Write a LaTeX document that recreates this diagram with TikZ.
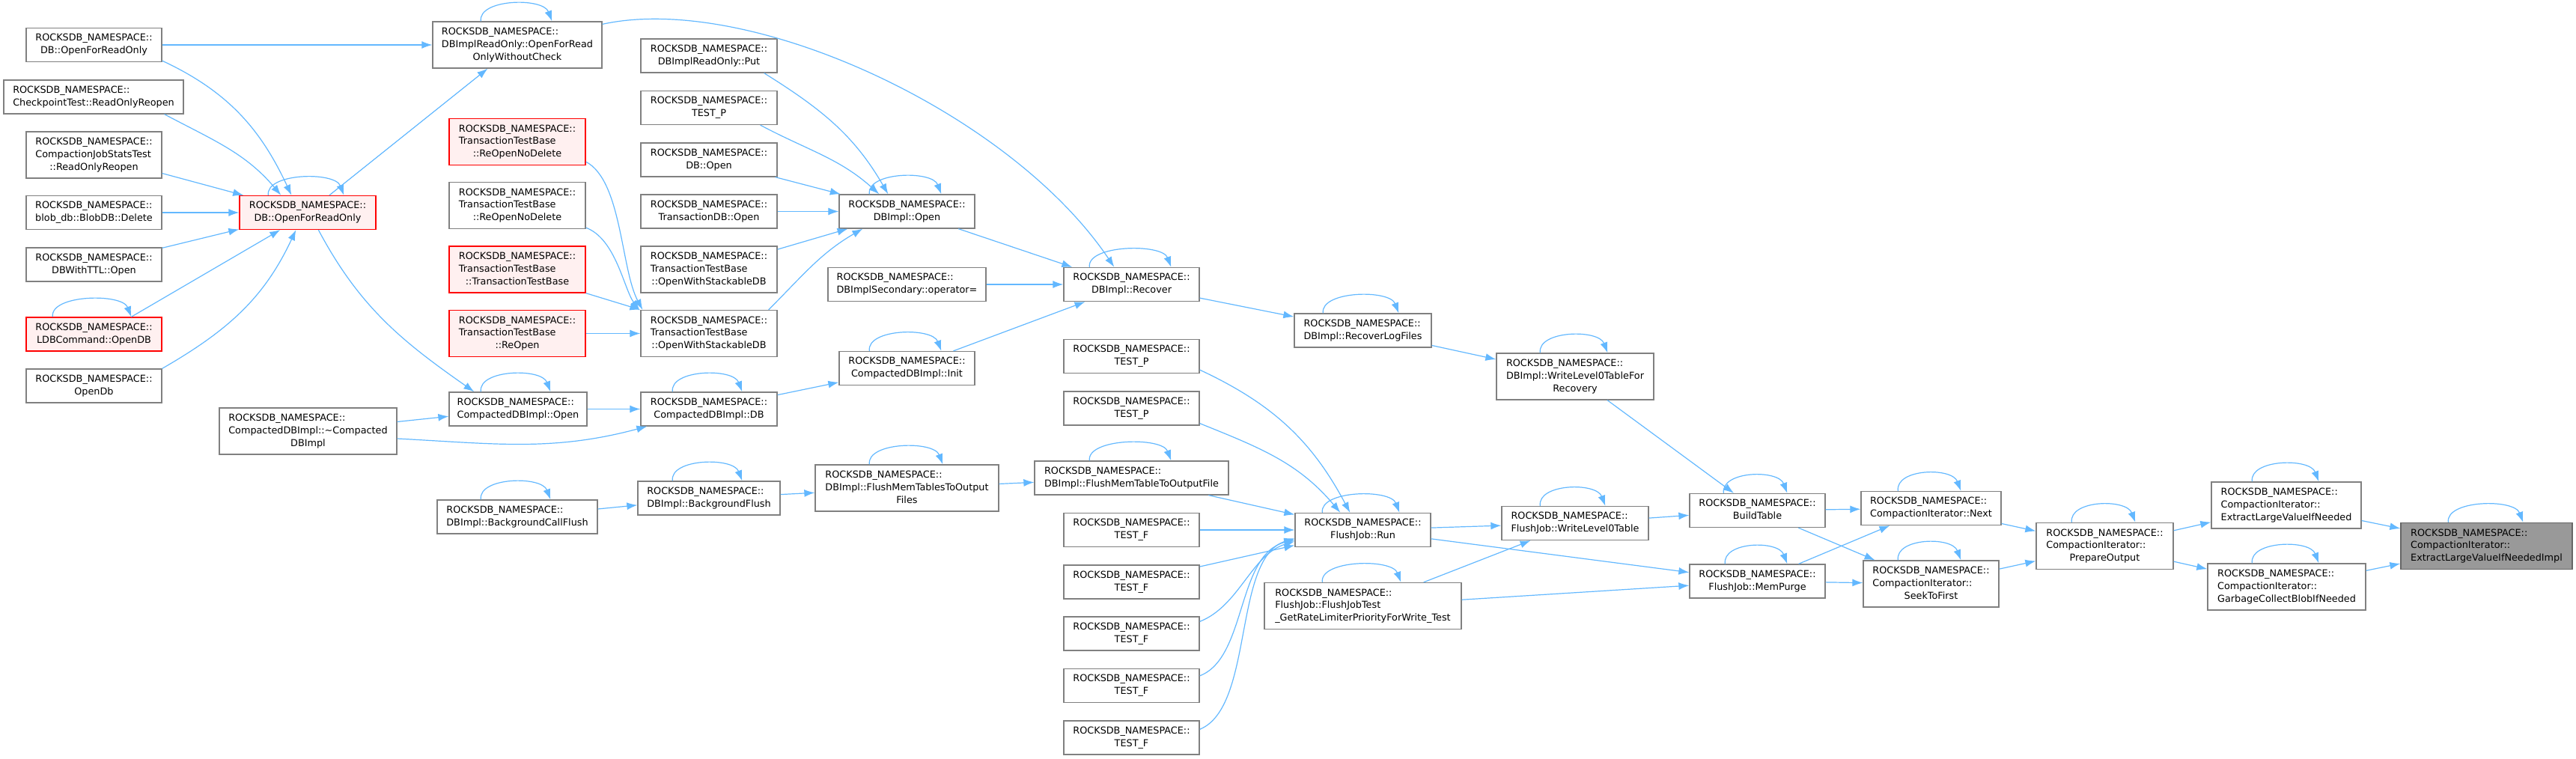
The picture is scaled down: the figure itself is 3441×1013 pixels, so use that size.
\documentclass[tikz,border=0pt]{standalone}
\usepackage{fontspec}
\newfontfamily\dejavu{DejaVu Sans}
\usetikzlibrary{arrows.meta,calc}
\definecolor{edgeblue}{HTML}{63B8FF}
\definecolor{boxgray}{HTML}{808080}
\definecolor{redfill}{HTML}{FFF0F0}
\definecolor{curfill}{HTML}{999999}
\definecolor{curborder}{HTML}{666666}
% labels: every line left aligned, the last one centred
\newcommand{\lbltwo}[2]{\begin{tabular}{@{}l@{}}#1\\\multicolumn{1}{@{}c@{}}{#2}\end{tabular}}
\newcommand{\lblthree}[3]{\begin{tabular}{@{}l@{}}#1\\#2\\\multicolumn{1}{@{}c@{}}{#3}\end{tabular}}
\newcommand{\rns}{ROCKSDB\_NAMESPACE::}
\begin{document}
\begin{tikzpicture}[x=0.5pt,y=0.5pt,
    fn/.style={draw=boxgray, fill=white, line width=0.65pt, inner sep=0pt,
      minimum height=22.5pt, font=\dejavu\fontsize{6.4}{8.4}\selectfont},
    fnred/.style={fn, draw=red, fill=redfill},
    fncur/.style={fn, draw=curborder, fill=curfill},
    tall/.style={minimum height=31pt},
    wd/.style={minimum width=#1*0.5pt},
    callarrow/.style={draw=edgeblue, line width=0.6pt, -{Latex[length=7pt,width=5pt]}}]
  \useasboundingbox (0,0) rectangle (3441,1013);

  % callers on the far left
  \node[fn, wd=181] (dbofro) at (125.5,953) {\lbltwo{\rns}{DB::OpenForReadOnly}};
  \node[fn, wd=240] (ckpt) at (125,883.5) {\lbltwo{\rns}{CheckpointTest::ReadOnlyReopen}};
  \node[fn, wd=181, tall] (cjst) at (125.5,806) {\lblthree{\rns}{CompactionJobStatsTest}{::ReadOnlyReopen}};
  \node[fn, wd=181] (blob) at (125.5,729) {\lbltwo{\rns}{blob\_db::BlobDB::Delete}};
  \node[fn, wd=181] (ttl) at (125.5,659.5) {\lbltwo{\rns}{DBWithTTL::Open}};
  \node[fnred, wd=181] (ldb) at (125.5,566.5) {\lbltwo{\rns}{LDBCommand::OpenDB}};
  \node[fn, wd=181] (opendb) at (125.5,497.5) {\lbltwo{\rns}{OpenDb}};
  \node[fn, wd=237, tall] (cdtor) at (411.5,437) {\lblthree{\rns}{CompactedDBImpl::\textasciitilde Compacted}{DBImpl}};
  \node[fnred, wd=182] (rofro) at (411,729) {\lbltwo{\rns}{DB::OpenForReadOnly}};

  \node[fn, wd=226, tall] (woc) at (691,953) {\lblthree{\rns}{DBImplReadOnly::OpenForRead}{OnlyWithoutCheck}};
  \node[fnred, wd=182, tall] (trndr) at (691,823.5) {\lblthree{\rns}{TransactionTestBase}{::ReOpenNoDelete}};
  \node[fn, wd=182, tall] (trnd) at (691,738.5) {\lblthree{\rns}{TransactionTestBase}{::ReOpenNoDelete}};
  \node[fnred, wd=182, tall] (trtb) at (691,653) {\lblthree{\rns}{TransactionTestBase}{::TransactionTestBase}};
  \node[fnred, wd=182, tall] (trro) at (691,567.5) {\lblthree{\rns}{TransactionTestBase}{::ReOpen}};
  \node[fn, wd=184] (cdo) at (692,466.5) {\lbltwo{\rns}{CompactedDBImpl::Open}};
  \node[fn, wd=214] (bgcf) at (691,322.5) {\lbltwo{\rns}{DBImpl::BackgroundCallFlush}};

  \node[fn, wd=182] (put) at (947,938.5) {\lbltwo{\rns}{DBImplReadOnly::Put}};
  \node[fn, wd=182] (testpa) at (947,869) {\lbltwo{\rns}{TEST\_P}};
  \node[fn, wd=182] (dbopen) at (947,799.5) {\lbltwo{\rns}{DB::Open}};
  \node[fn, wd=182] (txdb) at (947,730.5) {\lbltwo{\rns}{TransactionDB::Open}};
  \node[fn, wd=182, tall] (owsa) at (947,653) {\lblthree{\rns}{TransactionTestBase}{::OpenWithStackableDB}};
  \node[fn, wd=182, tall] (owsb) at (947,567.5) {\lblthree{\rns}{TransactionTestBase}{::OpenWithStackableDB}};
  \node[fn, wd=182] (cddb) at (947,466.5) {\lbltwo{\rns}{CompactedDBImpl::DB}};
  \node[fn, wd=190] (bgf) at (947,347.5) {\lbltwo{\rns}{DBImpl::BackgroundFlush}};

  \node[fn, wd=181] (dbiopen) at (1211.5,730.5) {\lbltwo{\rns}{DBImpl::Open}};
  \node[fn, wd=211] (sec) at (1211.5,633) {\lbltwo{\rns}{DBImplSecondary::operator=}};
  \node[fn, wd=181] (init) at (1211.5,521) {\lbltwo{\rns}{CompactedDBImpl::Init}};
  \node[fn, wd=245, tall] (fmts) at (1211.5,361) {\lblthree{\rns}{DBImpl::FlushMemTablesToOutput}{Files}};

  \node[fn, wd=181] (recover) at (1511.5,633) {\lbltwo{\rns}{DBImpl::Recover}};
  \node[fn, wd=181] (testpb) at (1511.5,537) {\lbltwo{\rns}{TEST\_P}};
  \node[fn, wd=181] (testpc) at (1511.5,467.5) {\lbltwo{\rns}{TEST\_P}};
  \node[fn, wd=259] (fmtof) at (1511.5,374.5) {\lbltwo{\rns}{DBImpl::FlushMemTableToOutputFile}};
  \foreach \i/\y in {1/305, 2/235.5, 3/166.5, 4/97, 5/27.5}
    \node[fn, wd=181] (testf\i) at (1511.5,\y) {\lbltwo{\rns}{TEST\_F}};

  \node[fn, wd=183] (rlf) at (1820.5,571.5) {\lbltwo{\rns}{DBImpl::RecoverLogFiles}};
  \node[fn, wd=181] (run) at (1820.5,305) {\lbltwo{\rns}{FlushJob::Run}};
  \node[fn, wd=263, tall] (fjt) at (1820.5,203.5) {\lblthree{\rns}{FlushJob::FlushJobTest}{\_GetRateLimiterPriorityForWrite\_Test}};

  \node[fn, wd=210, tall] (wlrec) at (2104,510) {\lblthree{\rns}{DBImpl::WriteLevel0TableFor}{Recovery}};
  \node[fn, wd=196] (wlt) at (2104,314) {\lbltwo{\rns}{FlushJob::WriteLevel0Table}};
  \node[fn, wd=181] (build) at (2347.5,331) {\lbltwo{\rns}{BuildTable}};
  \node[fn, wd=181] (mempurge) at (2347.5,236.5) {\lbltwo{\rns}{FlushJob::MemPurge}};
  \node[fn, wd=187] (next) at (2579.5,334) {\lbltwo{\rns}{CompactionIterator::Next}};
  \node[fn, wd=181, tall] (seek) at (2579.5,233) {\lblthree{\rns}{CompactionIterator::}{SeekToFirst}};
  \node[fn, wd=183, tall] (prep) at (2811.5,283.5) {\lblthree{\rns}{CompactionIterator::}{PrepareOutput}};
  \node[fn, wd=200, tall] (elvin) at (3054,338) {\lblthree{\rns}{CompactionIterator::}{ExtractLargeValueIfNeeded}};
  \node[fn, wd=211, tall] (gcbin) at (3054.5,229) {\lblthree{\rns}{CompactionIterator::}{GarbageCollectBlobIfNeeded}};
  \node[fncur, wd=229, tall] (impl) at (3321.5,283.5) {\lblthree{\rns}{CompactionIterator::}{ExtractLargeValueIfNeededImpl}};

  % straight calls, centre to centre
  \foreach \a/\b in {dbofro/woc, cjst/rofro, blob/rofro, ttl/rofro, rofro/woc,
      trro/owsb, dbopen/dbiopen, txdb/dbiopen, owsa/dbiopen, sec/recover,
      init/recover, cddb/init, cdo/cddb, cdtor/cdo, bgcf/bgf, bgf/fmts,
      fmts/fmtof, fmtof/run, testf1/run, testf2/run, run/wlt, run/mempurge,
      fjt/wlt, fjt/mempurge, recover/rlf, rlf/wlrec, wlrec/build, wlt/build,
      build/next, build/seek, mempurge/next, mempurge/seek, next/prep,
      seek/prep, prep/elvin, prep/gcbin, elvin/impl, gcbin/impl}
    \draw[callarrow] (\a) -- (\b);

  \draw[callarrow] ($(ldb.north west)+(141,0)$) -- ($(rofro.south west)+(55,0)$);
  \draw[callarrow] (trtb.south east) -- (owsb.north west);
  \draw[callarrow] (dbiopen) -- ($(recover.north west)+(12,0)$);

  % curved calls
  \draw[callarrow] ($(dbofro.south east)+(0,2)$) to[out=-25,in=115] ($(rofro.north west)+(70,0)$);
  \draw[callarrow] ($(ckpt.south east)+(-26,0)$) to[out=-28,in=130] ($(rofro.north west)+(56,0)$);
  \draw[callarrow] (opendb.north east) to[out=30,in=-115] ($(rofro.south west)+(76,0)$);
  \draw[callarrow] ($(rofro.south west)+(106,0)$) to[out=-62,in=145] ($(cdo.north west)+(34,0)$);
  \draw[callarrow] ($(woc.north east)+(0,-4)$) .. controls +(196,43) and +(-139,207) .. ($(recover.north west)+(68,0)$);
  \draw[callarrow] ($(trndr.south east)+(0,5)$) .. controls +(48,-25) and +(-29,54) .. ($(owsb.north west)+(3,0)$);
  \draw[callarrow] ($(trnd.south east)+(0,2)$) .. controls +(40,-15) and +(-21,29) .. ($(owsb.north west)+(-1,-1)$);
  \draw[callarrow] ($(put.south east)+(-18,0)$) to[out=-32,in=120] ($(dbiopen.north west)+(66,0)$);
  \draw[callarrow] ($(testpa.south east)+(-23,0)$) to[out=-28,in=138] ($(dbiopen.north west)+(54,0)$);
  \draw[callarrow] ($(owsb.north east)+(-12,0)$) to[out=45,in=-150] ($(dbiopen.south west)+(32,0)$);
  \draw[callarrow] ($(cdtor.east)+(0,-10)$) to[out=-3,in=195] ($(cddb.south west)+(9,0)$);
  \draw[callarrow] ($(testpc.south east)+(0,3)$) to[out=-22,in=130] ($(run.north west)+(61,0)$);
  \draw[callarrow] ($(testpb.south east)+(0,5)$) to[out=-25,in=118] ($(run.north west)+(74,0)$);
  \draw[callarrow] ($(testf3.north east)+(0,-7)$) .. controls +(53,21) and +(-58,-18) .. ($(run.south west)+(0,8)$);
  \draw[callarrow] ($(testf4.north east)+(0,-10)$) .. controls +(63,24) and +(-78,-19.5) .. ($(run.south west)+(0,10)$);
  \draw[callarrow] ($(testf5.north east)+(0,-12)$) .. controls +(73,30) and +(-83,-26.5) .. ($(run.south west)+(0,12)$);

  % recursive calls
  \foreach \n/\p/\q in {ldb/36/141, rofro/39/140, woc/65/160, dbiopen/41/137,
      init/41/137, cdo/43/136, cddb/43/136, bgcf/59/152, bgf/47/140,
      fmts/73/171, fmtof/74/183, recover/35/144, rlf/39/140, run/37/140,
      fjt/78/183, wlrec/59/149, wlt/52/139, build/46/131, mempurge/48/131,
      next/50/134, seek/47/131, prep/48/133, elvin/55/144, gcbin/60/149,
      impl/64/164}
    \draw[callarrow] ($(\n.north west)+(\p,0)$) .. controls +(-4,30) and +(-12,32) .. ($(\n.north west)+(\q,0)$);
\end{tikzpicture}
\end{document}
